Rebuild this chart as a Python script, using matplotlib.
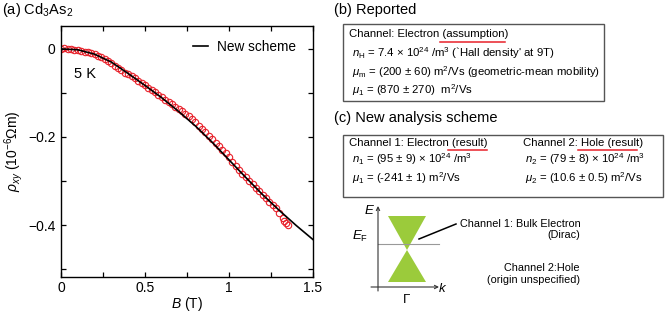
import matplotlib
matplotlib.use("Agg")
import matplotlib.pyplot as plt
from matplotlib.patches import Rectangle, Polygon
from matplotlib.ticker import MultipleLocator

plt.rcParams['font.family'] = ['Liberation Sans', 'DejaVu Sans']
plt.rcParams['mathtext.fontset'] = 'custom'
plt.rcParams['mathtext.rm'] = 'Liberation Sans'
plt.rcParams['mathtext.it'] = 'Liberation Sans:italic'
plt.rcParams['mathtext.bf'] = 'Liberation Sans:bold'

# fitted curve (new scheme)
B_fit = [0.0, 0.1, 0.2, 0.3, 0.4, 0.5, 0.6, 0.7, 0.8, 0.9, 1.0, 1.1, 1.2, 1.3, 1.4, 1.5]
rho_fit = [0.0, -0.002, -0.012, -0.030, -0.056, -0.083, -0.111, -0.142, -0.175,
           -0.212, -0.252, -0.292, -0.331, -0.367, -0.401, -0.433]

# measured rho_xy at 5 K
B_data = [0.00, 0.02, 0.04, 0.06, 0.08, 0.10, 0.12, 0.14, 0.16, 0.18,
          0.20, 0.22, 0.24, 0.26, 0.28, 0.30, 0.32, 0.34, 0.36, 0.38,
          0.40, 0.42, 0.44, 0.46, 0.48, 0.50, 0.52, 0.54, 0.56, 0.58,
          0.60, 0.62, 0.64, 0.66, 0.68, 0.70, 0.72, 0.74, 0.76, 0.78,
          0.80, 0.82, 0.84, 0.86, 0.88, 0.90, 0.92, 0.94, 0.96, 0.98,
          1.00, 1.02, 1.04, 1.06, 1.08, 1.10, 1.12, 1.14, 1.16, 1.18,
          1.20, 1.22, 1.24, 1.26, 1.28, 1.30, 1.32, 1.33, 1.34, 1.35]
rho_data = [0.000, 0.001, 0.000, -0.001, -0.002, -0.003, -0.004, -0.006, -0.008, -0.009,
            -0.012, -0.015, -0.019, -0.023, -0.028, -0.033, -0.038, -0.043, -0.049, -0.054,
            -0.058, -0.062, -0.067, -0.072, -0.078, -0.083, -0.088, -0.093, -0.098, -0.104,
            -0.110, -0.115, -0.120, -0.125, -0.131, -0.136, -0.142, -0.148, -0.153, -0.160,
            -0.167, -0.174, -0.182, -0.189, -0.197, -0.205, -0.213, -0.221, -0.229, -0.237,
            -0.246, -0.256, -0.266, -0.275, -0.284, -0.292, -0.299, -0.307, -0.315, -0.323,
            -0.331, -0.339, -0.347, -0.354, -0.361, -0.372, -0.383, -0.390, -0.396, -0.400]

W, H = 665, 313
fig = plt.figure(figsize=(W / 100, H / 100), dpi=100)

# panel (a)
ax = fig.add_axes([61 / W, (H - 277) / H, 252 / W, 251 / H])
ax.plot(B_data, rho_data, 'o', mfc='none', mec='#e8202a', ms=4.6, mew=0.8, zorder=2)
line, = ax.plot(B_fit, rho_fit, '-', color='black', lw=1.2, zorder=3)
ax.set_xlim(0, 1.5)
ax.set_ylim(-0.518, 0.052)
ax.xaxis.set_major_locator(MultipleLocator(0.5))
ax.xaxis.set_minor_locator(MultipleLocator(0.25))
ax.yaxis.set_major_locator(MultipleLocator(0.2))
ax.yaxis.set_minor_locator(MultipleLocator(0.1))
ax.xaxis.set_major_formatter(matplotlib.ticker.FuncFormatter(lambda v, p: '%g' % v))
ax.yaxis.set_major_formatter(matplotlib.ticker.FuncFormatter(lambda v, p: ('%g' % v).replace('-', '\u2212')))
ax.tick_params(which='both', direction='in', top=True, right=True, length=3.5, width=0.9, labelsize=10)
ax.tick_params(axis='x', pad=3)
ax.tick_params(axis='y', pad=4)
for s in ax.spines.values():
    s.set_linewidth(1.0)
ax.set_xlabel('$B$ (T)', fontsize=10, labelpad=0)
ax.set_ylabel(r'$\rho_{xy}$ (10$^{-6}$$\Omega$m)', fontsize=10, labelpad=2)
ax.legend([line], ['New scheme'], loc='upper right', frameon=False, fontsize=9.8,
          handlelength=1.1, handletextpad=0.7, borderaxespad=0,
          bbox_to_anchor=(0.955, 0.965))
ax.text(0.05, 0.81, '5 K', transform=ax.transAxes, fontsize=10.5, va='center')

# overlay in pixel coordinates for labels and panels (b), (c)
ov = fig.add_axes([0, 0, 1, 1])
ov.set_xlim(0, W)
ov.set_ylim(H, 0)
ov.axis('off')
ov.patch.set_visible(False)

ov.text(2, 10, '(a) Cd$_3$As$_2$', fontsize=10.5, va='center')
ov.text(334, 10, '(b) Reported', fontsize=10.5, va='center')
ov.text(334, 118, '(c) New analysis scheme', fontsize=10.5, va='center')

fs = 8.2
ov.add_patch(Rectangle((343, 24), 261, 77, fill=False, ec='#555555', lw=1.0))
ov.text(349, 34, 'Channel: Electron (assumption)', fontsize=fs, va='center')
ov.plot([440, 505], [42, 42], color='#e8202a', lw=1.1)
ov.text(352, 53, '$n_{\\rm H}$ = 7.4 \u00d7 10$^{24}$ /m$^3$ (`Hall density\' at 9T)', fontsize=fs, va='center')
ov.text(352, 72, '$\\mu_{\\rm m}$ = (200 \u00b1 60) m$^2$/Vs (geometric-mean mobility)', fontsize=fs, va='center')
ov.text(352, 90, '$\\mu_1$ = (870 \u00b1 270)  m$^2$/Vs', fontsize=fs, va='center')

ov.add_patch(Rectangle((343, 135), 320, 62, fill=False, ec='#555555', lw=1.0))
ov.text(349, 143, 'Channel 1: Electron (result)', fontsize=fs, va='center')
ov.plot([448, 487], [150, 150], color='#e8202a', lw=1.1)
ov.text(352, 159, '$n_1$ = (95 \u00b1 9) \u00d7 10$^{24}$ /m$^3$', fontsize=fs, va='center')
ov.text(352, 178, '$\\mu_1$ = (-241 \u00b1 1) m$^2$/Vs', fontsize=fs, va='center')
ov.text(523, 143, 'Channel 2: Hole (result)', fontsize=fs, va='center')
ov.plot([578, 637], [150, 150], color='#e8202a', lw=1.1)
ov.text(525, 159, '$n_2$ = (79 \u00b1 8) \u00d7 10$^{24}$ /m$^3$', fontsize=fs, va='center')
ov.text(525, 178, '$\\mu_2$ = (10.6 \u00b1 0.5) m$^2$/Vs', fontsize=fs, va='center')

# band schematic
green = '#9bcb3b'
ov.add_patch(Polygon([(388, 216), (426, 216), (407, 250)], closed=True, fc=green, ec='none'))
ov.add_patch(Polygon([(407, 250), (388, 282), (426, 282)], closed=True, fc=green, ec='none'))
ov.plot([378, 439], [244, 244], color='#999999', lw=0.8)
ov.annotate('', xy=(378, 206), xytext=(378, 291),
            arrowprops=dict(arrowstyle='->', lw=0.8, color='#333333', shrinkA=0, shrinkB=0,
                            mutation_scale=6))
ov.annotate('', xy=(439, 287), xytext=(371, 287),
            arrowprops=dict(arrowstyle='->', lw=0.8, color='#333333', shrinkA=0, shrinkB=0,
                            mutation_scale=6))
ov.text(369, 211, '$E$', fontsize=9.5, va='center', ha='center')
ov.text(360, 236, '$E_{\\rm F}$', fontsize=9.5, va='center', ha='center')
ov.text(443, 288, '$k$', fontsize=9.5, va='center', ha='center')
ov.text(407, 300, '\u0393', fontsize=9.5, va='center', ha='center')
ov.plot([419, 456], [239, 224], color='black', lw=1.1)
fs2 = 7.8
ov.text(460, 224, 'Channel 1: Bulk Electron', fontsize=fs2, va='center')
ov.text(580, 235, '(Dirac)', fontsize=fs2, va='center', ha='right')
ov.text(580, 268, 'Channel 2:Hole', fontsize=fs2, va='center', ha='right')
ov.text(580, 280, '(origin unspecified)', fontsize=fs2, va='center', ha='right')

fig.savefig('out.png', dpi=100)
